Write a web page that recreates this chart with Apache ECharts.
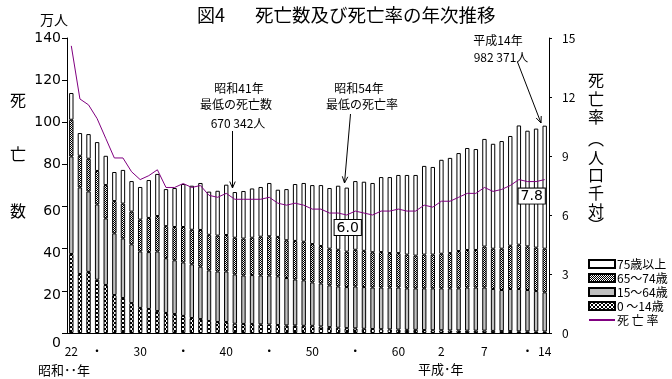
<!DOCTYPE html>
<html><head><meta charset="utf-8">
<script src="https://cdn.jsdelivr.net/npm/echarts@6/dist/echarts.min.js"></script>
<style>html,body{margin:0;padding:0;background:#fff}#c{width:672px;height:379px}</style>
</head><body><div id="c"></div>
<script>
// 昭和22年(1947) 〜 平成14年(2002)
const categories = ['22','23','24','25','26','27','28','29','30','31','32','33','34','35','36','37','38','39','40','41',
  '42','43','44','45','46','47','48','49','50','51','52','53','54','55','56','57','58','59','60','61','62','63',
  '元','2','3','4','5','6','7','8','9','10','11','12','13','14'];
// 万人
const age0_14 = [37.5,28.0,29.0,25.3,22.8,18.0,16.6,14.2,11.9,11.4, 10.4,9.5,9.0,8.1,7.1,6.6,5.7,5.2,5.2,4.4,
  4.3,4.3,4.1,4.0,3.8,3.6,3.6,3.4,3.4,3.1, 2.8,2.5,2.3,2.2,2.0,1.9,1.8,1.7,1.6,1.5,
  1.5,1.4,1.3,1.3,1.2,1.2,1.1,1.1,1.1,1.0, 0.9,0.9,0.8,0.8,0.7,0.7];
const age15_64 = [46.3,41.1,38.2,35.7,31.6,29.3,28.3,27.9,26.8,27.0, 28.3,26.0,25.5,25.4,25.5,24.9,24.0,24.0,24.0,23.4,
  23.0,23.2,23.2,23.3,23.1,22.5,21.8,21.6,20.6,20.4, 19.8,19.6,19.5,19.9,19.8,19.7,19.8,19.9,20.0,19.7,
  19.7,19.8,19.9,19.9,20.0,20.0,20.5,20.5,20.5,19.9, 19.5,20.0,20.1,19.6,19.2,18.6];
const age65_74 = [17.4,15.0,15.5,15.9,15.8,15.3,16.5,15.5,15.1,16.2, 16.8,15.2,15.8,16.8,16.4,17.4,16.9,17.0,17.3,17.4,
  17.5,17.7,18.4,18.6,18.7,17.9,18.3,18.3,18.2,17.8, 17.4,17.4,16.8,17.4,17.2,16.7,16.8,16.3,16.3,16.0,
  15.5,16.0,16.0,16.4,16.7,17.7,17.8,17.8,19.4,19.1, 19.6,20.5,21.0,20.7,20.6,20.7];
const age75plus = [12.7,10.8,11.7,13.7,13.9,13.8,16.0,14.5,15.5,18.0, 20.0,17.6,18.5,20.4,20.9,22.3,20.5,21.3,23.9,21.7,
  22.6,23.4,23.6,25.3,22.4,24.3,27.0,27.9,28.0,28.9, 28.8,30.4,30.4,32.6,32.8,32.9,35.6,36.1,37.1,37.8,
  38.3,42.1,41.6,44.6,45.2,46.5,48.4,47.9,51.1,49.8, 51.1,52.1,56.6,54.9,56.5,58.4];
// 人口千対
const deathRate = [14.6,11.9,11.6,10.9,9.9,8.9,8.9,8.2,7.8,8.0, 8.3,7.4,7.4,7.6,7.4,7.5,7.0,6.9,7.1,6.8,
  6.8,6.8,6.8,6.9,6.6,6.5,6.6,6.5,6.3,6.3, 6.1,6.1,6.0,6.2,6.1,6.0,6.2,6.2,6.3,6.2,
  6.2,6.5,6.4,6.7,6.7,6.9,7.1,7.1,7.4,7.2, 7.3,7.5,7.8,7.7,7.7,7.8];
const xTickLabels = {'22':'22','25':'・','30':'30','35':'・','40':'40','45':'・','50':'50','55':'・','60':'60','2':'2','7':'7','12':'・','14':'14'};
const boxedRateIdx = [32, 55]; // 昭和54年, 平成14年
const seriesNames = ['0 ～14歳','15～64歳','65～74歳','75歳以上','死 亡 率'];

function pattern(w, h, draw){
  const c = document.createElement('canvas'); c.width = w; c.height = h;
  const ctx = c.getContext('2d'); draw(ctx);
  return {image: c, repeat: 'repeat'};
}
const checkerBold = pattern(4,4,ctx=>{ctx.fillStyle='#fff';ctx.fillRect(0,0,4,4);ctx.fillStyle='#000';ctx.fillRect(0,0,2,2);ctx.fillRect(2,2,2,2);});
const checkerFine = pattern(2,2,ctx=>{ctx.fillStyle='#fff';ctx.fillRect(0,0,2,2);ctx.fillStyle='#000';ctx.fillRect(0,0,1,1);ctx.fillRect(1,1,1,1);});

const CJK = "'Noto Sans CJK JP', sans-serif";
const NARROW = "'Liberation Sans Narrow','Noto Sans CJK JP', sans-serif";

const chart = echarts.init(document.getElementById('c'), null, {renderer:'canvas'});

function barSeries(name, data, color){
  return {name, type:'bar', stack:'d', data, barWidth:4.4, yAxisIndex:0,
    itemStyle:{color, borderColor:'#000', borderWidth:1}, emphasis:{disabled:true}};
}
function arrow(x1,y1,x2,y2){
  const a = Math.atan2(y2-y1, x2-x1), L = 7, s = 0.4;
  return {type:'group', children:[
    {type:'line', shape:{x1,y1,x2,y2}, style:{stroke:'#000', lineWidth:1}},
    {type:'polyline', shape:{points:[[x2-L*Math.cos(a-s), y2-L*Math.sin(a-s)],[x2,y2],[x2-L*Math.cos(a+s), y2-L*Math.sin(a+s)]]}, style:{stroke:'#000', fill:null, lineWidth:1}}
  ]};
}
function txt(text, x, y, size, align, family){
  return {type:'text', x, y, style:{text, fill:'#000', font: size+'px '+(family||CJK), align: align||'center', verticalAlign:'middle'}};
}
const rightName = [['死',80],['亡',99],['率',117],['︵',139],['人',158],['口',175],['千',193],['対',211],['︶',225]];
const boxLabel = {show:true, position:'bottom', color:'#000', fontSize:14, fontFamily:"'DejaVu Sans'",
  backgroundColor:'#fff', borderColor:'#000', borderWidth:1, padding:[1,2,0,2],
  formatter:(p)=>p.value[1].toFixed(1)};
const leftLabelFont = {fontSize:14, fontFamily:"'DejaVu Sans'", color:'#000'};

chart.setOption({
  animation:false,
  backgroundColor:'#fff',
  grid:{left:67, right:123, top:38, bottom:46, containLabel:false},
  xAxis:{type:'category', data:categories,
    axisLine:{lineStyle:{color:'#000', width:1}}, axisTick:{show:false},
    axisLabel:{interval:0, margin:12, color:'#000', fontSize:12, fontFamily:NARROW,
      formatter:(v)=>xTickLabels[v]||''}},
  yAxis:[
    {type:'value', min:0, max:140, interval:20, position:'left',
      axisLine:{show:true, lineStyle:{color:'#000'}}, axisTick:{show:true, length:5, lineStyle:{color:'#000'}},
      splitLine:{show:false},
      axisLabel:Object.assign({margin:6,
        formatter:(v)=> v===0 ? '{z|0}' : (v<=60 ? '{m|'+v+'}' : '{n|'+v+'}'),
        rich:{z:Object.assign({padding:[20,0,0,0]}, leftLabelFont), m:Object.assign({padding:[10,0,0,0]}, leftLabelFont), n:Object.assign({}, leftLabelFont)}
      }, leftLabelFont)},
    {type:'value', min:0, max:15, interval:3, position:'right',
      axisLine:{show:true, lineStyle:{color:'#000'}}, axisTick:{show:true, length:3, lineStyle:{color:'#000'}},
      splitLine:{show:false}, axisLabel:{color:'#000', fontSize:12, fontFamily:NARROW, margin:13}}
  ],
  legend:{orient:'vertical', left:583, top:252, itemWidth:26, itemHeight:8, itemGap:0,
    textStyle:{color:'#000', fontSize:12, fontFamily:CJK, lineHeight:14, padding:[0,0,0,-3]},
    selectedMode:false,
    data:[{name:seriesNames[3], icon:'rect'},{name:seriesNames[2], icon:'rect'},{name:seriesNames[1], icon:'rect'},{name:seriesNames[0], icon:'rect'},
      {name:seriesNames[4], itemStyle:{opacity:0}}]},
  series:[
    barSeries(seriesNames[0], age0_14, checkerBold),
    barSeries(seriesNames[1], age15_64, '#c0c0c0'),
    barSeries(seriesNames[2], age65_74, checkerFine),
    barSeries(seriesNames[3], age75plus, '#fff'),
    {name:seriesNames[4], type:'line', yAxisIndex:1, symbol:'none', z:5,
      lineStyle:{color:'#800080', width:1}, itemStyle:{color:'#800080'}, emphasis:{disabled:true},
      data: deathRate},
    {name:'boxed', type:'scatter', yAxisIndex:1, symbolSize:0, z:6, silent:true,
      itemStyle:{opacity:1, color:'#000'},
      data:[
        {value:[boxedRateIdx[0], deathRate[boxedRateIdx[0]]], label:Object.assign({}, boxLabel, {distance:5, offset:[1,0]})},
        {value:[boxedRateIdx[1], deathRate[boxedRateIdx[1]]], label:Object.assign({}, boxLabel, {distance:9, offset:[-13,0]})}
      ]}
  ],
  graphic:[
    txt('図4', 197, 15, 18, 'left'),
    txt('死亡数及び死亡率の年次推移', 255, 15, 18.5, 'left'),
    txt('万人', 54, 20, 14),
    txt('死', 18, 100, 16), txt('亡', 18, 154, 16), txt('数', 18, 211, 16),
    ...rightName.map(([c,y])=>txt(c, 596, y, 16)),
    txt('昭和･･年', 38, 370, 13, 'left'),
    txt('平成･年', 418, 369, 13, 'left'),
    txt('昭和41年', 239, 88, 12), txt('最低の死亡数', 236, 104, 12), txt('670 342人', 238, 123, 12),
    arrow(232.5, 131, 232.5, 188),
    txt('昭和54年', 359, 88, 12), txt('最低の死亡率', 362, 104, 12),
    arrow(350.5, 114, 344.5, 183),
    txt('平成14年', 498, 40, 12), txt('982 371人', 501, 57, 12),
    arrow(517.5, 62, 541, 123)
  ]
});
</script></body></html>
